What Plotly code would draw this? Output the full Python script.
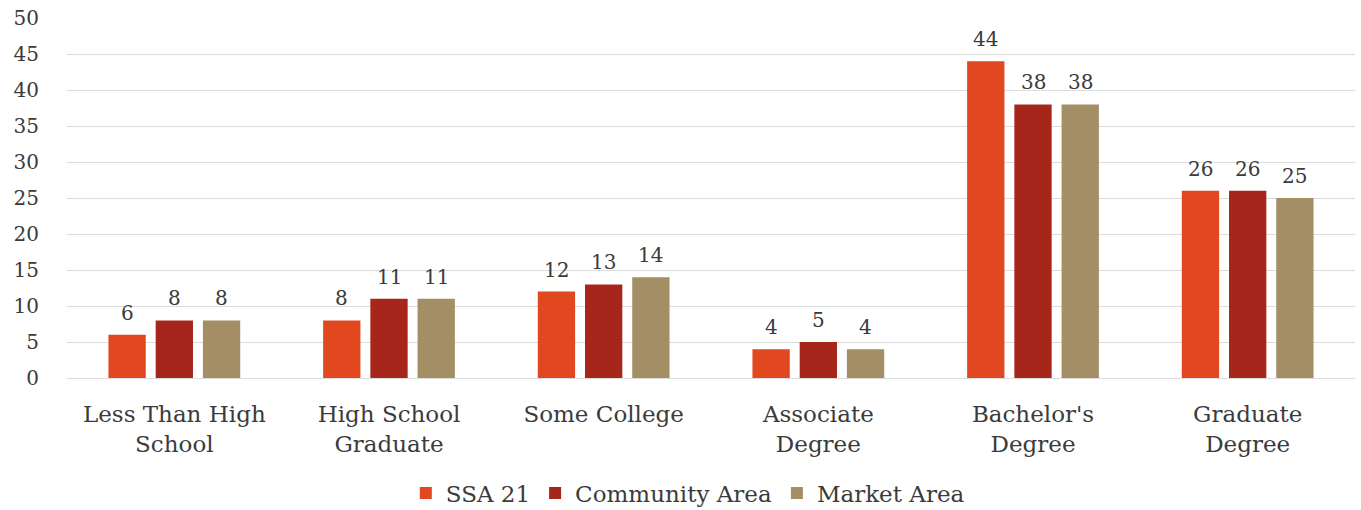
import plotly.graph_objects as go

categories = ["Less Than High<br>School", "High School<br>Graduate", "Some College",
              "Associate<br>Degree", "Bachelor's<br>Degree", "Graduate<br>Degree"]
ssa21 = [6, 8, 12, 4, 44, 26]
community_area = [8, 11, 13, 5, 38, 26]
market_area = [8, 11, 14, 4, 38, 25]

series = [
    ("SSA 21", ssa21, "#E2481F"),
    ("Community Area", community_area, "#A6261C"),
    ("Market Area", market_area, "#A48E66"),
]

FONT = "DejaVu Serif"
TEXT_COLOR = "#3b3b3b"

W, H = 1361, 510
M_L, M_R, M_T, M_B = 67, 6, 15, 132
BARGAP, BARGROUPGAP = 0.34, 0.21

fig = go.Figure()
for name, vals, color in series:
    fig.add_trace(go.Bar(
        x=categories, y=vals, name=name,
        marker=dict(color=color, line=dict(width=0)),
        hoverinfo="x+y+name",
    ))

# value labels above each bar, offset horizontally to the bar's slot in its group
cat_px = (W - M_L - M_R) / len(categories)
slot_px = cat_px * (1 - BARGAP) / len(series)
for i, (name, vals, color) in enumerate(series):
    dx = (i - (len(series) - 1) / 2) * slot_px
    for cat, v in zip(categories, vals):
        fig.add_annotation(
            x=cat, y=v, text=str(v), showarrow=False,
            xanchor="center", yanchor="bottom", xshift=dx, yshift=8,
            font=dict(family=FONT, size=20, color=TEXT_COLOR),
        )

fig.update_layout(
    width=W, height=H,
    margin=dict(l=M_L, r=M_R, t=M_T, b=M_B),
    paper_bgcolor="white", plot_bgcolor="white",
    barmode="group", bargap=BARGAP, bargroupgap=BARGROUPGAP,
    font=dict(family=FONT, color=TEXT_COLOR),
    showlegend=True,
    legend=dict(
        orientation="h", xref="paper", yref="container",
        x=0.482, xanchor="center", y=0.033, yanchor="middle",
        font=dict(family=FONT, size=23, color=TEXT_COLOR),
        itemwidth=30, bgcolor="rgba(0,0,0,0)",
    ),
)
fig.update_xaxes(
    showgrid=False, showline=False, ticks="",
    tickfont=dict(family=FONT, size=23, color=TEXT_COLOR),
    ticklabelstandoff=20,
)
fig.update_yaxes(
    range=[0, 50], dtick=5, showgrid=True, gridcolor="#dcdcdc", gridwidth=1,
    zeroline=True, zerolinecolor="#dcdcdc", zerolinewidth=1,
    showline=False, ticks="",
    tickfont=dict(family=FONT, size=20, color=TEXT_COLOR),
    ticklabelstandoff=27,
)

fig.write_html("out.html")
